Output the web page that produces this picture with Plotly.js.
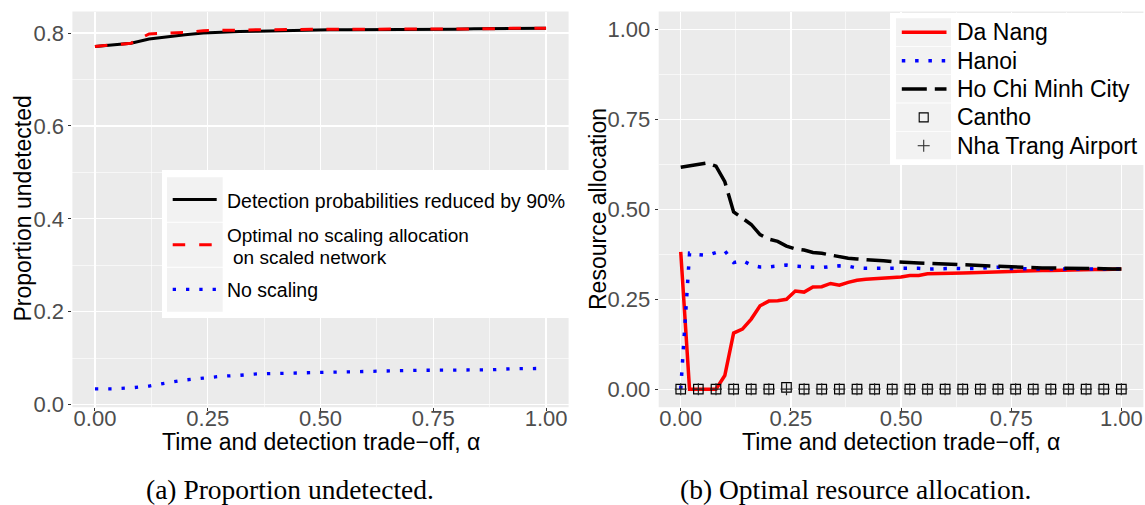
<!DOCTYPE html>
<html><head><meta charset="utf-8">
<script src="https://cdn.plot.ly/plotly-3.0.1.min.js"></script>
<style>html,body{margin:0;padding:0;background:#fff}#chart{width:1145px;height:505px}</style>
</head><body><div id="chart"></div>
<script>
// ---------- Data: panel (a) ----------
const alphaA = [0.00,0.04,0.08,0.12,0.16,0.20,0.24,0.28,0.32,0.36,0.40,0.44,0.48,0.52,0.56,0.60,0.64,0.68,0.72,0.76,0.80,0.84,0.88,0.92,0.96,1.00];
const reduced90 = [0.771,0.774,0.778,0.787,0.792,0.796,0.800,0.802,0.803,0.804,0.805,0.806,0.806,0.807,0.807,0.807,0.807,0.808,0.808,0.808,0.808,0.809,0.809,0.809,0.809,0.810];
const optimalNoScaling = [0.771,0.774,0.778,0.798,0.799,0.801,0.805,0.806,0.807,0.807,0.807,0.808,0.808,0.808,0.808,0.808,0.808,0.809,0.809,0.809,0.809,0.809,0.809,0.810,0.810,0.810];
const noScaling = [0.034,0.034,0.036,0.040,0.047,0.053,0.057,0.061,0.063,0.066,0.067,0.068,0.069,0.070,0.071,0.072,0.073,0.073,0.074,0.074,0.074,0.075,0.075,0.077,0.078,0.078];

// ---------- Data: panel (b) ----------
const alphaB = [0.00,0.02,0.04,0.06,0.08,0.10,0.12,0.14,0.16,0.18,0.20,0.22,0.24,0.26,0.28,0.30,0.32,0.34,0.36,0.38,0.40,0.42,0.44,0.46,0.48,0.50,0.52,0.54,0.56,0.58,0.60,0.62,0.64,0.66,0.68,0.70,0.72,0.74,0.76,0.78,0.80,0.82,0.84,0.86,0.88,0.90,0.92,0.94,0.96,0.98,1.00];
const daNang = [0.382,0.000,0.000,0.000,0.000,0.038,0.156,0.167,0.195,0.232,0.245,0.246,0.250,0.273,0.270,0.284,0.285,0.294,0.289,0.297,0.303,0.306,0.307,0.309,0.309,0.312,0.316,0.316,0.321,0.321,0.322,0.322,0.323,0.324,0.325,0.326,0.327,0.327,0.328,0.329,0.329,0.330,0.330,0.331,0.331,0.332,0.332,0.333,0.333,0.333,0.334];
const hanoi = [0.000,0.378,0.374,0.372,0.380,0.385,0.352,0.358,0.345,0.340,0.340,0.342,0.345,0.342,0.340,0.338,0.338,0.341,0.343,0.342,0.337,0.336,0.336,0.337,0.337,0.337,0.337,0.336,0.334,0.335,0.336,0.336,0.335,0.335,0.336,0.338,0.339,0.336,0.335,0.335,0.335,0.334,0.334,0.334,0.334,0.334,0.334,0.334,0.334,0.334,0.334];
const hoChiMinh = [0.617,0.621,0.626,0.629,0.620,0.577,0.493,0.475,0.458,0.430,0.417,0.411,0.398,0.390,0.387,0.380,0.378,0.373,0.368,0.364,0.362,0.361,0.360,0.357,0.355,0.353,0.352,0.351,0.350,0.349,0.348,0.347,0.345,0.344,0.342,0.341,0.340,0.339,0.339,0.338,0.338,0.337,0.337,0.337,0.337,0.337,0.336,0.335,0.335,0.334,0.334];
const alphaMarkers = [0.00,0.04,0.08,0.12,0.16,0.20,0.24,0.28,0.32,0.36,0.40,0.44,0.48,0.52,0.56,0.60,0.64,0.68,0.72,0.76,0.80,0.84,0.88,0.92,0.96,1.00];
const cantho = [0,0,0,0,0,0,0.005,0,0,0,0,0,0,0,0,0,0,0,0,0,0,0,0,0,0,0];
const nhaTrang = [0,0,0,0,0,0,0,0,0,0,0,0,0,0,0,0,0,0,0,0,0,0,0,0,0,0];

// ---------- Tick labels & texts ----------
const xTickVals = [0,0.25,0.5,0.75,1];
const xTickText = ['0.00','0.25','0.50','0.75','1.00'];
const yTickValsA = [0,0.2,0.4,0.6,0.8];
const yTickTextA = ['0.0','0.2','0.4','0.6','0.8'];
const yTickValsB = [0,0.25,0.5,0.75,1];
const yTickTextB = ['0.00','0.25','0.50','0.75','1.00'];
const legendA = ['Detection probabilities reduced by 90%','Optimal no scaling allocation','on scaled network','No scaling'];
const legendB = ['Da Nang','Hanoi','Ho Chi Minh City','Cantho','Nha Trang Airport'];
const xTitle = 'Time and detection trade\u2212off, \u03b1';
const yTitleA = 'Proportion undetected';
const yTitleB = 'Resource allocation';
const captionA = '(a) Proportion undetected.';
const captionB = '(b) Optimal resource allocation.';

// ---------- Layout helpers ----------
const W = 1145, H = 505;
const PX = v => v / W;
const PY = v => 1 - v / H;
const SANS = 'Liberation Sans, Arial, Helvetica, sans-serif';
const SERIF = 'Liberation Serif, Times New Roman, serif';

const traces = [
  {x: alphaA, y: reduced90, xaxis: 'x', yaxis: 'y', mode: 'lines', line: {color: '#000000', width: 3}, hoverinfo: 'skip'},
  {x: alphaA, y: optimalNoScaling, xaxis: 'x', yaxis: 'y', mode: 'lines', line: {color: '#FF0000', width: 3, dash: '12.5px,13.5px'}, hoverinfo: 'skip'},
  {x: alphaA, y: noScaling, xaxis: 'x', yaxis: 'y', mode: 'lines', line: {color: '#0000FF', width: 3.3, dash: '3.3px,10px'}, hoverinfo: 'skip'},
  {x: alphaB, y: daNang, xaxis: 'x2', yaxis: 'y2', mode: 'lines', line: {color: '#FF0000', width: 3.5}, hoverinfo: 'skip'},
  {x: alphaB, y: hanoi, xaxis: 'x2', yaxis: 'y2', mode: 'lines', line: {color: '#0000FF', width: 3.5, dash: '3.5px,9.8px'}, hoverinfo: 'skip'},
  {x: alphaB, y: hoChiMinh, xaxis: 'x2', yaxis: 'y2', mode: 'lines', line: {color: '#000000', width: 3.5, dash: '25px,8px'}, hoverinfo: 'skip'},
  {x: alphaMarkers, y: cantho, xaxis: 'x2', yaxis: 'y2', mode: 'markers', marker: {symbol: 'square-open', size: 9.5, color: '#000000', line: {color: '#000000', width: 1.2}}, hoverinfo: 'skip'},
  {x: alphaMarkers, y: nhaTrang, xaxis: 'x2', yaxis: 'y2', mode: 'markers', marker: {symbol: 'cross-thin-open', size: 8.5, color: '#222222', line: {color: '#222222', width: 1.2}}, hoverinfo: 'skip'}
];

const tickFont = {family: SANS, size: 22, color: '#4D4D4D'};
function axisBase(extra) {
  return Object.assign({
    ticks: 'outside', ticklen: 3, tickwidth: 1, tickcolor: '#333333',
    showgrid: true, gridcolor: '#FFFFFF', gridwidth: 1.3,
    zeroline: false, showline: false, tickfont: tickFont, fixedrange: true,
    tickmode: 'array'
  }, extra);
}

const plotTop = 11.5, plotBottom = 407.2;
const layout = {
  width: W, height: H,
  margin: {l: 0, r: 0, t: 0, b: 0, pad: 0},
  paper_bgcolor: '#FFFFFF', plot_bgcolor: '#EBEBEB',
  showlegend: false,
  xaxis: axisBase({domain: [PX(72.4), PX(568.6)], range: [-0.05, 1.05], anchor: 'y',
    tickvals: xTickVals, ticktext: xTickText, ticklabelstandoff: -12,
    minor: {tickmode: 'linear', tick0: 0, dtick: 0.125, showgrid: true, gridcolor: '#FFFFFF', gridwidth: 0.6, ticks: ''}}),
  yaxis: axisBase({domain: [PY(plotBottom), PY(plotTop)], range: [-(plotBottom - 404.6) / 464.5, (404.6 - plotTop) / 464.5], anchor: 'x',
    tickvals: yTickValsA, ticktext: yTickTextA,
    minor: {tickmode: 'linear', tick0: 0, dtick: 0.1, showgrid: true, gridcolor: '#FFFFFF', gridwidth: 0.6, ticks: ''}}),
  xaxis2: axisBase({domain: [PX(658.7), PX(1143.4)], range: [-0.05, 1.05], anchor: 'y2',
    tickvals: xTickVals, ticktext: xTickText, ticklabelstandoff: -12,
    minor: {tickmode: 'linear', tick0: 0, dtick: 0.125, showgrid: true, gridcolor: '#FFFFFF', gridwidth: 0.6, ticks: ''}}),
  yaxis2: axisBase({domain: [PY(plotBottom), PY(plotTop)], range: [-0.05, 1.05], anchor: 'x2',
    tickvals: yTickValsB, ticktext: yTickTextB,
    minor: {tickmode: 'linear', tick0: 0, dtick: 0.125, showgrid: true, gridcolor: '#FFFFFF', gridwidth: 0.6, ticks: ''}}),
  shapes: [],
  annotations: []
};

function rect(x0, y0, x1, y1, fill, lineColor, lw) {
  return {type: 'rect', xref: 'paper', yref: 'paper', layer: 'above',
    x0: PX(x0), x1: PX(x1), y0: PY(y1), y1: PY(y0),
    fillcolor: fill, line: {color: lineColor || 'rgba(0,0,0,0)', width: lw || 0}};
}
function seg(x0, y0, x1, y1, color, width, dash) {
  return {type: 'line', xref: 'paper', yref: 'paper', layer: 'above',
    x0: PX(x0), x1: PX(x1), y0: PY(y0), y1: PY(y1),
    line: {color: color, width: width, dash: dash || 'solid'}};
}
function label(text, x, y, size, opts) {
  return Object.assign({text: text, xref: 'paper', yref: 'paper', x: PX(x), y: PY(y),
    showarrow: false, xanchor: 'left', yanchor: 'middle',
    font: {family: SANS, size: size, color: '#000000'}}, opts || {});
}

// ---- Legend (a) ----
layout.shapes.push(rect(162, 170, 571, 318, '#FFFFFF'));
const rowsA = [[177.3, 221.7], [222.7, 266.7], [267.7, 311.7]];
rowsA.forEach(r => layout.shapes.push(rect(167, r[0], 222.7, r[1], '#F2F2F2')));
layout.shapes.push(seg(172.7, 199.5, 216.7, 199.5, '#000000', 3));
layout.shapes.push(seg(172.7, 244.7, 216.7, 244.7, '#FF0000', 3, '12.5px,14px'));
layout.shapes.push(seg(172.7, 289.3, 216.7, 289.3, '#0000FF', 3.3, '3.3px,10px'));
layout.annotations.push(label(legendA[0], 225, 200.5, 19.5));
layout.annotations.push(label(legendA[1], 225, 235.6, 19));
layout.annotations.push(label(legendA[2], 230.5, 257.3, 19));
layout.annotations.push(label(legendA[3], 225, 289.5, 19.5));

// ---- Legend (b) ----
layout.shapes.push(rect(890, 13, 1145, 165, '#FFFFFF'));
const rowTopB = [18.3, 46.7, 75.0, 103.4, 131.7];
rowTopB.forEach(t => layout.shapes.push(rect(896, t, 951, t + 27.6, '#F2F2F2')));
const cy = rowTopB.map(t => t + 14);
layout.shapes.push(seg(901.8, cy[0], 946.5, cy[0], '#FF0000', 3.5));
layout.shapes.push(seg(901.8, cy[1], 946.5, cy[1], '#0000FF', 3.5, '3.5px,9.8px'));
layout.shapes.push(seg(901.8, cy[2], 946.5, cy[2], '#000000', 3.5, '25px,8px'));
layout.shapes.push(rect(919.2, cy[3] - 4.5, 928.2, cy[3] + 4.5, 'rgba(0,0,0,0)', '#000000', 1.1));
layout.shapes.push(seg(917.7, cy[4], 929.7, cy[4], '#333333', 1.1));
layout.shapes.push(seg(923.7, cy[4] - 6, 923.7, cy[4] + 6, '#333333', 1.1));
legendB.forEach((t, i) => layout.annotations.push(label(t, 955, cy[i], 23)));

// ---- Axis titles ----
layout.annotations.push(label(xTitle, 320.5, 442, 23, {xanchor: 'center'}));
layout.annotations.push(label(xTitle, 901, 442, 23, {xanchor: 'center'}));
layout.annotations.push(label(yTitleA, 22.5, 209, 23, {xanchor: 'center', textangle: -90}));
layout.annotations.push(label(yTitleB, 598, 209, 23, {xanchor: 'center', textangle: -90}));

// ---- Captions ----
layout.annotations.push(label(captionA, 290, 489, 27.5, {xanchor: 'center', font: {family: SERIF, size: 27.5, color: '#000000'}}));
layout.annotations.push(label(captionB, 855, 489, 27.5, {xanchor: 'center', font: {family: SERIF, size: 27.5, color: '#000000'}}));

Plotly.newPlot('chart', traces, layout, {staticPlot: true, displayModeBar: false});
</script>
</body></html>
